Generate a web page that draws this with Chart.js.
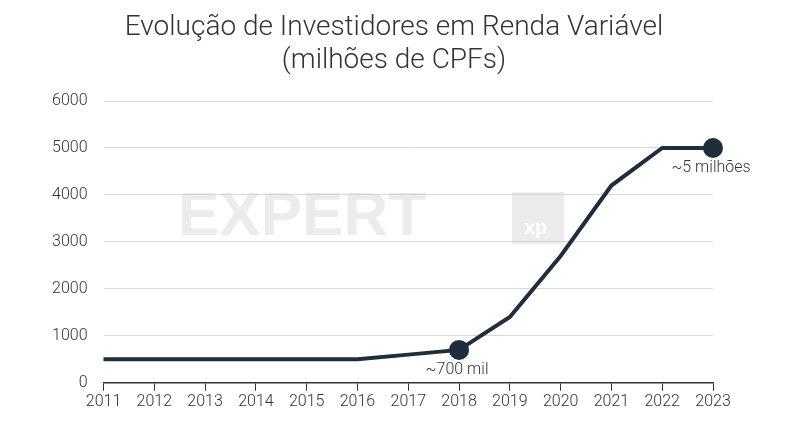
<!DOCTYPE html>
<html><head><meta charset="utf-8">
<script src="https://cdn.jsdelivr.net/npm/chart.js@4"></script>
<style>html,body{margin:0;padding:0;background:#fff}</style>
</head><body><canvas id="c" width="801" height="431"></canvas>
<script>
const years = ['2011','2012','2013','2014','2015','2016','2017','2018','2019','2020','2021','2022','2023'];
const investors = [500,500,500,500,500,500,600,700,1400,2700,4200,5000,5000];
const yTicks = [0,1000,2000,3000,4000,5000,6000];
const titleLines = ['Evolução de Investidores em Renda Variável','(milhões de CPFs)'];
const notes = {7:'~700 mil', 12:'~5 milhões'};
const marked = [7,12];

const plug = {
  id:'extra',
  beforeDatasetsDraw(ch){
    const c=ch.ctx;
    c.save();
    c.fillStyle='rgba(200,200,200,0.35)';
    c.font='bold 62px "Liberation Sans"';
    c.textAlign='left';c.textBaseline='middle';
    c.fillText('EXPERT', 178, 218);
    c.fillRect(512,192,52,52);
    c.fillStyle='#fff';c.font='bold 20px "Liberation Sans"';c.fillText('xp',524,228);
    c.restore();
  },
  afterDatasetsDraw(ch){
    const c=ch.ctx, m=ch.getDatasetMeta(0);
    c.save();c.fillStyle='#333';c.font='300 16px Roboto';c.textAlign='center';c.textBaseline='middle';
    for(const k in notes){const p=m.data[k];c.fillText(notes[k],p.x-2,p.y+20);}
    c.font='300 28px Roboto';
    titleLines.forEach((t,i)=>c.fillText(t,394,28+i*33));
    c.restore();
  }
};
new Chart(document.getElementById('c'),{
  type:'line',
  data:{labels:years,datasets:[{data:investors,borderColor:'#1f2d3d',backgroundColor:'#1f2d3d',borderWidth:4,
    pointRadius:investors.map((v,i)=>marked.includes(i)?8:0),pointHoverRadius:0,tension:0}]},
  options:{responsive:false,animation:false,devicePixelRatio:1,
    layout:{padding:{left:36,right:88,top:101,bottom:17}},
    plugins:{legend:{display:false},tooltip:{enabled:false},title:{display:false}},
    scales:{
      x:{offset:false,grid:{display:true,drawOnChartArea:false,color:'#333',tickLength:8},border:{color:'#333',width:1.5},
        ticks:{color:'#333',font:{family:'Roboto',weight:'300',size:16},padding:2,maxRotation:0,autoSkip:false}},
      y:{min:0,max:6000,afterBuildTicks:ax=>{ax.ticks=yTicks.map(v=>({value:v}));},
        grid:{color:'#d9d9d9',drawTicks:false},border:{display:false},
        ticks:{color:'#333',font:{family:'Roboto',weight:'300',size:16},padding:16,callback:v=>String(v)}}
    }},
  plugins:[plug]
});
</script></body></html>
